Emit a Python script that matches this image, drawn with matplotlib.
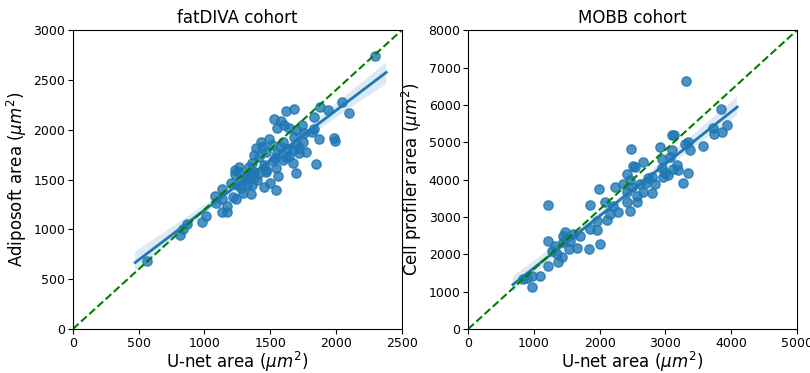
import numpy as np
import matplotlib.pyplot as plt
import seaborn as sns

# fatDIVA cohort: U-net area vs Adiposoft area
fat_unet = [2295, 2045, 2100, 1990, 1940, 1880, 1835, 1835, 1775, 1850,
            1680, 1620, 1530, 1555, 1605, 1645, 1695, 1740, 1760, 1680,
            1815, 1870, 1490, 1430, 1440, 1390, 1515, 1580, 1630, 1670,
            1720, 1720, 1555, 1620, 1670, 1695, 1545, 1470, 1415, 1380,
            1365, 1265, 1230, 1235, 1340, 1415, 1315, 1380, 1470, 1300,
            1365, 1380, 1320, 1290, 1355, 1455, 1500, 1545, 1205, 1135,
            1215, 1240, 1135, 1175, 1135, 1175, 1080, 1090, 1015, 985,
            865, 835, 815, 560, 1355, 1265, 1600, 1450, 1520, 1400,
            1280, 1330, 1560, 1640, 1750, 1580, 1250, 1985, 1540, 1470,
            1600, 1700]
fat_adipo = [2740, 2280, 2170, 1890, 2200, 2230, 2130, 2010, 1780, 1660,
             2210, 2190, 2110, 2020, 2050, 2020, 2000, 2050, 1970, 1930,
             1980, 1910, 1910, 1880, 1830, 1820, 1850, 1830, 1810, 1800,
             1820, 1770, 1770, 1730, 1670, 1570, 1620, 1600, 1730, 1750,
             1670, 1630, 1600, 1560, 1630, 1570, 1530, 1580, 1580, 1500,
             1450, 1520, 1450, 1370, 1360, 1430, 1470, 1400, 1470, 1410,
             1330, 1310, 1310, 1230, 1170, 1170, 1340, 1270, 1130, 1070,
             1050, 1000, 940, 680, 1570, 1580, 1700, 1650, 1690, 1500,
             1420, 1560, 1540, 1740, 1880, 2090, 1450, 1920, 1720, 1780,
             1880, 1850]

# MOBB cohort: U-net area vs Cell profiler area
mobb_unet = [3315, 3845, 3935, 3725, 3860, 3740, 3570, 3300, 3345, 3375,
             3100, 3130, 3100, 2920, 2480, 2660, 2950, 3070, 3175, 3115,
             3190, 3345, 3270, 2950, 2995, 2540, 2510, 2420, 2795, 2965,
             3040, 2840, 2735, 2705, 2615, 2460, 2355, 2490, 2235, 1990,
             2420, 2660, 2795, 1215, 1855, 2080, 2205, 2280, 2160, 2110,
             2420, 2460, 2570, 2570, 1960, 1855, 1960, 2005, 1840, 1700,
             1595, 1475, 1445, 1550, 1655, 1535, 1445, 1320, 1215, 1275,
             1350, 1430, 1370, 1215, 1095, 975, 900, 835, 975]
mobb_cellprof = [6640, 5890, 5470, 5390, 5280, 5230, 4910, 4960, 5010, 4800,
                 5200, 5200, 4800, 4880, 4830, 4480, 4560, 4610, 4400, 4290,
                 4270, 4190, 3920, 4320, 4190, 4350, 4370, 4160, 4080, 4080,
                 4130, 3870, 4050, 3920, 3870, 4000, 3870, 3790, 3790, 3760,
                 3680, 3680, 3650, 3310, 3330, 3390, 3280, 3120, 3070, 2930,
                 3390, 3150, 3390, 3550, 2880, 2670, 2640, 2270, 2130, 2480,
                 2530, 2590, 2480, 2350, 2160, 2130, 2320, 2210, 2350, 2080,
                 2000, 1920, 1790, 1680, 1410, 1410, 1360, 1330, 1120]

fig = plt.figure(figsize=(8.1, 3.73), dpi=100)
ax1 = fig.add_axes([0.090, 0.118, 0.406, 0.801])
ax2 = fig.add_axes([0.578, 0.118, 0.406, 0.801])

panels = [
    (ax1, fat_unet, fat_adipo, 'fatDIVA cohort', r'Adiposoft area ($\mu m^2$)', 2500, 3000, 500, 500),
    (ax2, mobb_unet, mobb_cellprof, 'MOBB cohort', r'Cell profiler area ($\mu m^2$)', 5000, 8000, 1000, 1000),
]

for ax, x, y, title, ylab, xmax, ymax, xstep, ystep in panels:
    # old-style regplot: fit line spans the autoscaled x range
    sns.regplot(x=np.array(x), y=np.array(y), ax=ax, seed=0, truncate=False,
                scatter_kws={'s': 45, 'alpha': 0.8}, line_kws={'lw': 2})
    ax.plot([0, 1], [0, 1], 'g--', transform=ax.transAxes, lw=1.5)
    ax.set_xlim(0, xmax)
    ax.set_ylim(0, ymax)
    ax.set_xticks(np.arange(0, xmax + 1, xstep))
    ax.set_yticks(np.arange(0, ymax + 1, ystep))
    ax.tick_params(labelsize=9, pad=2)
    ax.set_title(title, fontsize=12, pad=5)
    ax.set_xlabel(r'U-net area ($\mu m^2$)', fontsize=12, labelpad=0)
    ax.set_ylabel(ylab, fontsize=12, labelpad=3)

fig.savefig('out.png', dpi=100)
